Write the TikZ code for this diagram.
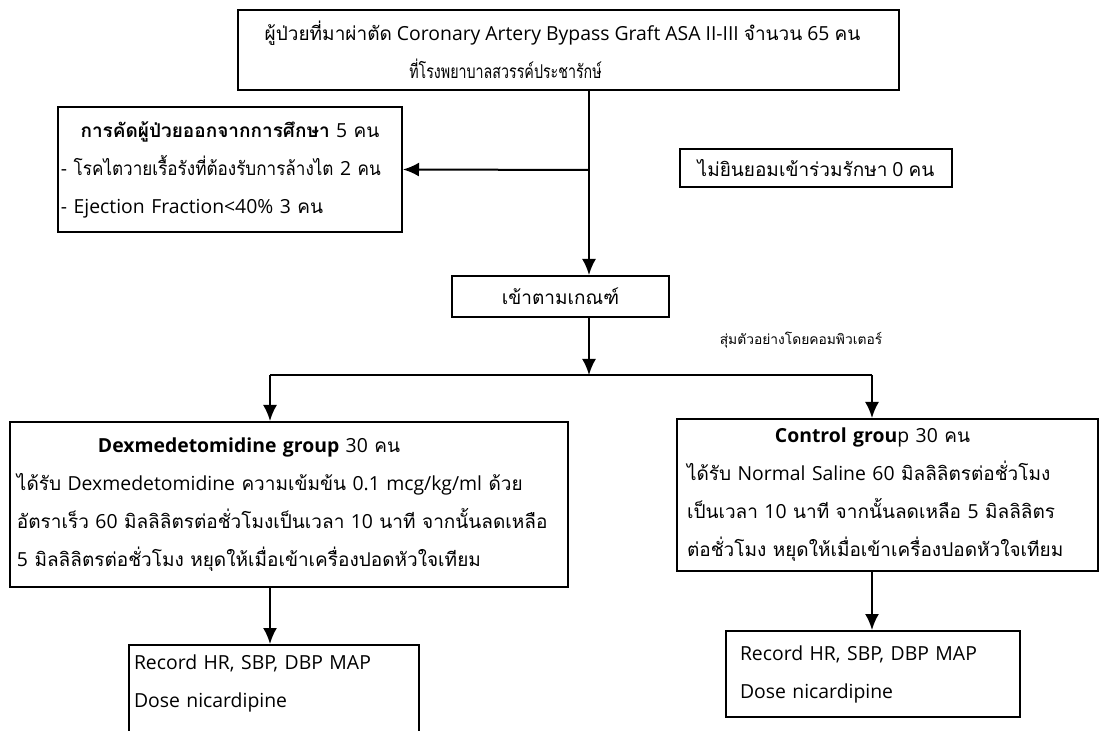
\documentclass[tikz,border=0pt]{standalone}
\usepackage{fontspec}
\setmainfont[Scale=1.02]{Open Sans}
\newfontfamily\latinfont[Scale=1.02]{Open Sans}
\newfontfamily\thaifont[Script=Thai]{Loma}
\newfontfamily\thainarrow[Script=Thai,FakeStretch=0.9]{Loma}
\newfontfamily\thaicond[Script=Thai,FakeStretch=0.75]{Loma}
\usetikzlibrary{positioning,arrows.meta}
% Thai letters in Loma, everything else in Open Sans
\newXeTeXintercharclass\thaiclass
\count255="0E00
\loop
  \XeTeXcharclass\count255=\thaiclass
  \ifnum\count255<"0E7F \advance\count255 by 1 \repeat
\XeTeXinterchartoks 0 \thaiclass = {\thaifont}
\XeTeXinterchartoks 4095 \thaiclass = {\thaifont}
\XeTeXinterchartoks \thaiclass 0 = {\latinfont}
\XeTeXinterchartoks \thaiclass 4095 = {\latinfont}
\newcommand{\thaimix}{\XeTeXinterchartokenstate=1\relax}
\newcommand{\headline}[2][0pt]{\makebox[\linewidth][c]{#2\hspace*{#1}}}

\begin{document}
\begin{tikzpicture}[
    x=0.5pt, y=-0.5pt,
    >={Latex[length=8pt,width=7pt]},
    link/.style={->, line width=1pt},
    every node/.style={ inner sep=0pt,
                        font=\thaimix\fontsize{9.5}{19}\selectfont},
    box/.style={draw, line width=1pt, align=center},
    listbox/.style={draw, line width=1pt, align=left}]

    \useasboundingbox (0,0) rectangle (1108,731);

    \node[box, minimum width=330.5pt, minimum height=40pt] (entry) at (568.5,50)
        {ผู้ป่วยที่มาผ่าตัด Coronary Artery Bypass Graft ASA II-III จำนวน 65 คน\hspace*{6pt}\\
         \mbox{\let\thaifont\thaicond ที่โรงพยาบาลสวรรค์ประชารักษ์}\hspace*{63pt}};

    \node[listbox, text width=169pt, inner xsep=1.5pt, minimum height=62.5pt] (exclude) at (230,169.5)
        {\headline{\textbf{การคัดผู้ป่วยออกจากการศึกษา} 5 คน}\\
         \mbox{\let\thaifont\thainarrow - โรคไตวายเรื้อรังที่ต้องรับการล้างไต 2 คน}\\
         - Ejection Fraction<40\% 3 คน};

    \node[box, minimum width=136pt, minimum height=19pt] (refuse) at (816,168)
        {ไม่ยินยอมเข้าร่วมรักษา 0 คน};

    \node[box, minimum width=108.5pt, minimum height=20.5pt] (eligible) at (560.5,296.5)
        {เข้าตามเกณฑ์};

    \node[font=\thaimix\fontsize{6.9}{8}\selectfont] (random) at (801,340)
        {สุ่มตัวอย่างโดยคอมพิวเตอร์};

    \node[listbox, text width=272pt, inner xsep=3.5pt, minimum height=82.5pt] (dex) at (289,504.5)
        {\headline[40pt]{\textbf{Dexmedetomidine group} 30 คน}\\
         ได้รับ Dexmedetomidine ความเข้มข้น 0.1 mcg/kg/ml ด้วย\\
         อัตราเร็ว 60 มิลลิลิตรต่อชั่วโมงเป็นเวลา 10 นาที จากนั้นลดเหลือ\\
         5 มิลลิลิตรต่อชั่วโมง หยุดให้เมื่อเข้าเครื่องปอดหัวใจเทียม};

    \node[listbox, text width=200.5pt, inner xsep=5pt, minimum height=76pt] (control) at (887.5,495)
        {\headline[15pt]{\textbf{Control grou}p 30 คน}\\
         ได้รับ Normal Saline 60 มิลลิลิตรต่อชั่วโมง\\
         เป็นเวลา 10 นาที จากนั้นลดเหลือ 5 มิลลิลิตร\\
         ต่อชั่วโมง หยุดให้เมื่อเข้าเครื่องปอดหัวใจเทียม};

    \node[listbox, text width=140pt, inner xsep=2.5pt, minimum height=55pt] (recdex) at (274,700)
        {Record HR, SBP, DBP MAP\\Dose nicardipine\\\mbox{}};

    \node[listbox, text width=133pt, inner xsep=7pt, minimum height=43pt] (recctrl) at (873,674)
        {Record HR, SBP, DBP MAP\\Dose nicardipine};

    % trunk and branches
    \coordinate (trunk) at (589,170);
    \coordinate (split) at (589,375);
    \coordinate (splitL) at (270,375);
    \coordinate (splitR) at (872,375);

    \draw[link] (entry.south -| trunk) -- (eligible.north -| trunk);
    \draw[link] (trunk) -- (exclude.east);
    \draw[link] (eligible.south -| split) -- (split);
    \draw[line width=1pt] (splitL) -- (splitR);
    \draw[link] (splitL) -- (dex.north -| splitL);
    \draw[link] (splitR) -- (control.north -| splitR);
    \draw[link] (dex.south -| splitL) -- (recdex.north -| splitL);
    \draw[link] (control.south -| splitR) -- (recctrl.north -| splitR);

\end{tikzpicture}
\end{document}
